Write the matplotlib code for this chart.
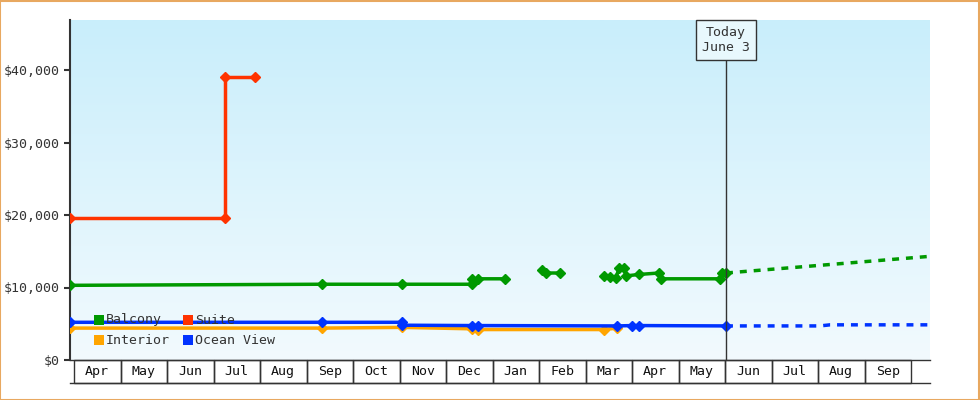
import matplotlib
matplotlib.use("Agg")
import matplotlib.pyplot as plt
import numpy as np
from matplotlib.patches import Rectangle
from matplotlib.transforms import blended_transform_factory
from matplotlib.colors import LinearSegmentedColormap

plt.rcParams['font.family'] = ['DejaVu Sans Mono']

months = ["Apr","May","Jun","Jul","Aug","Sep","Oct","Nov","Dec","Jan","Feb","Mar","Apr","May","Jun","Jul","Aug","Sep"]
# x positions are pixel readings converted to months since start of first April
def px(v): return (v - 74) / 46.5

suite_x = [70, 225, 225, 255]
suite_y = [19600, 19600, 39000, 39000]

balcony_segs = [
    ([70, 322, 402, 472, 472, 478, 505], [10300, 10450, 10450, 10450, 11200, 11200, 11200]),
    ([542, 546, 560], [12400, 12000, 12000]),
    ([604, 610, 616, 619, 624, 626, 639, 659, 661, 720, 722, 726],
     [11600, 11500, 11300, 12700, 12700, 11600, 11800, 12000, 11200, 11200, 12000, 12000]),
]
balcony_fc_x = [726, 930]
balcony_fc_y = [12000, 14300]

ocean_x = [70, 322, 402, 402, 472, 478, 617, 632, 639, 726]
ocean_y = [5200, 5200, 5200, 4800, 4750, 4750, 4700, 4750, 4750, 4700]
ocean_fc_x = [726, 820, 830, 930]
ocean_fc_y = [4700, 4700, 4850, 4850]

interior_x = [70, 322, 402, 472, 478, 604, 617]
interior_y = [4400, 4400, 4500, 4300, 4200, 4200, 4400]

fig = plt.figure(figsize=(9.8, 4.0), dpi=100)
fig.patch.set_facecolor("white")
fig.add_artist(Rectangle((0.0005, 0.001), 0.998, 0.997, transform=fig.transFigure,
                         fill=False, edgecolor="#e8a860", lw=1.5))
ax = fig.add_axes([70/980, 40/400, 860/980, 340/400])
xmin, xmax = px(70), px(930)
ymax = (360-20)/7.25*1000
ax.set_xlim(xmin, xmax)
ax.set_ylim(0, ymax)
grad = np.linspace(0, 1, 256).reshape(-1, 1)
cm = LinearSegmentedColormap.from_list("g", ["#f2fafe", "#c9eefb"])
ax.imshow(grad, aspect="auto", cmap=cm, extent=[xmin, xmax, 0, ymax], origin="lower", zorder=0)

kw = dict(lw=2.5, marker="D", ms=5)
ax.plot([px(v) for v in interior_x], interior_y, color="#ffa500", **kw, zorder=3)
ax.plot([px(v) for v in ocean_x], ocean_y, color="#0033ff", **kw, zorder=4)
ax.plot([px(v) for v in ocean_fc_x], ocean_fc_y, color="#0033ff", lw=2.5, ls=(0, (2, 2)), zorder=4)
for xs, ys in balcony_segs:
    ax.plot([px(v) for v in xs], ys, color="#009900", **kw, zorder=3)
ax.plot([px(v) for v in balcony_fc_x], balcony_fc_y, color="#009900", lw=2.5, ls=(0, (2, 2)), zorder=3)
ax.plot([px(v) for v in suite_x], suite_y, color="#ff3300", **kw, zorder=3)

# today line
today = px(726)
ax.axvline(today, ymin=0, ymax=(360-60)/340, color="#333333", lw=1, zorder=5)
ax.text(today, (360-40)/7.25*1000, "Today\nJune 3", ha="center", va="center", fontsize=9.5,
        color="#333333", zorder=6,
        bbox=dict(boxstyle="square,pad=0.45", fc="#e8f8fd", ec="#333333", lw=1))

for s in ["top", "right", "bottom"]:
    ax.spines[s].set_visible(False)
ax.spines["left"].set_color("#333333")
ax.spines["left"].set_linewidth(1.5)
ax.set_yticks([0, 10000, 20000, 30000, 40000])
ax.set_yticklabels(["$0", "$10,000", "$20,000", "$30,000", "$40,000"], fontsize=9.5, color="#333333")
ax.tick_params(axis="y", which="major", length=4, width=1.5, color="#333333")
ax.set_xticks([])

tr = blended_transform_factory(ax.transData, ax.transAxes)
h = 23/340
for i, m in enumerate(months):
    ax.add_patch(Rectangle((i, -h), 1, h, transform=tr, fill=False, ec="#333333", lw=1, clip_on=False))
    ax.text(i + 0.5, -h/2, m, transform=tr, ha="center", va="center", fontsize=9.5, color="#111111")
ax.plot([xmin, xmax], [-h, -h], transform=tr, color="#333333", lw=1, clip_on=False)
ax.plot([xmin, xmax], [0, 0], transform=tr, color="#333333", lw=1, clip_on=False)

leg = [("Balcony", "#009900", 94, 320), ("Suite", "#ff3300", 183, 320),
       ("Interior", "#ffa500", 94, 340), ("Ocean View", "#0033ff", 183, 340)]
for name, c, lx, ly in leg:
    fig.add_artist(Rectangle((lx/980, (400-ly-5)/400), 10/980, 10/400, transform=fig.transFigure,
                             fc=c, ec="none", zorder=10))
    fig.text((lx+12)/980, (400-ly)/400, name, ha="left", va="center", fontsize=9.5, color="#333333", zorder=10)

fig.savefig("out.png", dpi=100)
